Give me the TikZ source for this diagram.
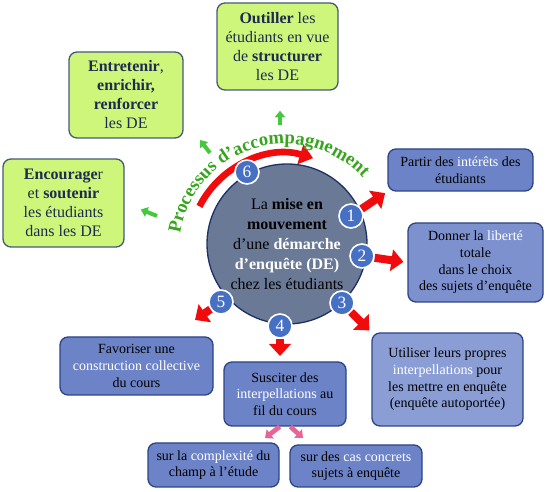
\documentclass[tikz,border=0pt]{standalone}
\usepackage{fontspec}
\setmainfont{LiberationSerif}[Extension=.ttf,UprightFont=*-Regular,BoldFont=*-Bold,ItalicFont=*-Italic,BoldItalicFont=*-BoldItalic]
\usepackage{xcolor}
\usetikzlibrary{arrows.meta,decorations.text}
\definecolor{boxgreen}{RGB}{206,246,122}
\definecolor{greentext}{RGB}{30,42,80}
\definecolor{greenedge}{RGB}{70,90,120}
\definecolor{boxblue}{RGB}{108,131,199}
\definecolor{boxbluea}{RGB}{124,145,206}
\definecolor{boxblueb}{RGB}{138,157,213}
\definecolor{blueedge}{RGB}{45,68,135}
\definecolor{circfill}{RGB}{106,121,150}
\definecolor{circedge}{RGB}{30,50,100}
\definecolor{numblue}{RGB}{70,112,196}
\definecolor{arrowred}{RGB}{240,12,12}
\definecolor{arrowpink}{RGB}{232,100,150}
\definecolor{arrowgreen}{RGB}{70,200,60}
\definecolor{procgreen}{RGB}{55,165,30}
\newcommand\procfont{\rmfamily\fontsize{14}{14}\selectfont\bfseries\color{procgreen}}

\begin{document}
\begin{tikzpicture}[x=0.75pt,y=0.75pt,
  greenbox/.style={draw=greenedge,line width=1pt,fill=boxgreen,rounded corners=6pt,align=center,text=greentext,font=\rmfamily\fontsize{12}{14.25}\selectfont},
  bluebox/.style={draw=blueedge,line width=1pt,fill=boxblue,rounded corners=6pt,align=center,font=\rmfamily\fontsize{10.5}{12.5}\selectfont},
  numdisc/.style={circle,draw=white,line width=1.2pt,fill=numblue,text=white,minimum size=18pt,inner sep=0pt,font=\rmfamily\fontsize{13}{13}\selectfont},
  redarrow/.style={draw=arrowred,line width=6pt,-{Triangle[length=9pt,width=16pt]}},
  pinkarrow/.style={draw=arrowpink,line width=3.5pt,-{Triangle[length=5pt,width=8.5pt]}},
  greenarrow/.style={draw=arrowgreen,line width=3pt,-{Triangle[length=5pt,width=7.5pt]}}]
\useasboundingbox (0,0) rectangle (550,492);

\node[greenbox,minimum width=90.75pt,minimum height=65.25pt] (outiller) at (277.5,445.5) {\textbf{Outiller} les\\ étudiants en vue\\ de \textbf{structurer}\\ les DE};
\node[greenbox,minimum width=85.5pt,minimum height=64.5pt] (entretenir) at (126,397) {\textbf{Entretenir},\\ \textbf{enrichir,}\\ \textbf{renforcer}\\ les DE};
\node[greenbox,minimum width=90.75pt,minimum height=66pt] (encourager) at (63.5,289) {\textbf{Encourage}r\\ et \textbf{soutenir}\\ les étudiants\\ dans les DE};

\node[bluebox,minimum width=108.75pt,minimum height=31.5pt] (partir) at (460.5,322) {Partir des \textcolor{white}{intérêts} des\\ étudiants};
\node[bluebox,fill=boxbluea,minimum width=101.25pt,minimum height=59.25pt] (donner) at (475.5,229.5) {Donner la \textcolor{white}{liberté}\\ totale\\ dans le choix\\ des sujets d’enquête};
\node[bluebox,fill=boxblueb,minimum width=113.25pt,minimum height=69.75pt] (utiliser) at (447.5,112.5) {Utiliser leurs propres\\ \textcolor{white}{interpellations} pour\\ les mettre en enquête\\ (enquête autoportée)};
\node[bluebox,minimum width=91.5pt,minimum height=48pt] (susciter) at (285,98) {Susciter des\\ \textcolor{white}{interpellations} au\\ fil du cours};
\node[bluebox,minimum width=114.75pt,minimum height=43.5pt] (favoriser) at (136.5,126) {Favoriser une\\ \textcolor{white}{construction collective}\\ du cours};
\node[bluebox,minimum width=98.25pt,minimum height=33pt] (complexite) at (213.5,27) {sur la \textcolor{white}{complexité} du\\ champ à l’étude};
\node[bluebox,minimum width=99pt,minimum height=31.5pt] (concrets) at (356,26) {sur des \textcolor{white}{cas concrets}\\ sujets à enquête};

\node[circle,draw=circedge,line width=1pt,fill=circfill,minimum size=120pt,inner sep=0pt,align=center,font=\rmfamily\fontsize{12}{15}\selectfont] (mise) at (287,248) {La \textbf{mise en}\\ \textbf{mouvement}\\ d’une \textbf{\textcolor{white}{démarche}}\\ \textbf{\textcolor{white}{d’enquête (DE)}}\\ chez les étudiants};

\draw[draw=arrowred,line width=5pt,-{Triangle[length=10pt,width=15pt]}] ([shift={(285,242)}]153:96) arc[start angle=153,end angle=73,radius=96];
\path[decorate,decoration={text along path,text align=center,text={|\procfont|Processus d’accompagnement}}] ([shift={(285,242)}]172:106) arc[start angle=172,end angle=42,radius=106];

\node[numdisc] (n1) at (351,276) {1};
\node[numdisc] (n2) at (362,236) {2};
\node[numdisc] (n3) at (342,189) {3};
\node[numdisc] (n4) at (280,166) {4};
\node[numdisc] (n5) at (221,190) {5};
\node[numdisc] (n6) at (247,320) {6};

\coordinate (t5) at (195,172);
\draw[redarrow,shorten >=2pt] (n1) -- (partir.south west);
\draw[redarrow,shorten >=3pt] (n2) -- (donner.west);
\draw[redarrow,shorten >=2pt] (n3) -- (utiliser.north west);
\draw[redarrow,shorten >=4pt] (n4.south) -- (n4.south |- susciter.north);
\draw[redarrow] (n5) -- (t5);

\coordinate (p1) at (265,54);
\coordinate (p2) at (303,54);
\draw[pinkarrow] ([xshift=-4pt]susciter.south) -- (p1);
\draw[pinkarrow] ([xshift=4pt]susciter.south) -- (p2);

\coordinate (g1) at (280,367);
\coordinate (g2) at (210,339);
\coordinate (h2) at (200,352);
\coordinate (g3) at (157,276);
\draw[greenarrow,shorten >=15pt] (g1) -- (g1 |- outiller.south);
\draw[greenarrow] (g2) -- (h2);
\draw[greenarrow,shorten >=13pt] (g3) -- (encourager.east);
\end{tikzpicture}
\end{document}
